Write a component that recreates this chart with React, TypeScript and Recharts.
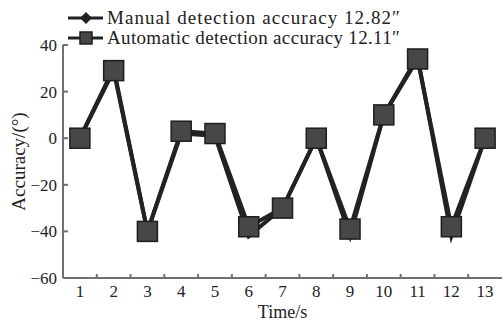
import React from 'react';
import { LineChart, Line, XAxis, YAxis } from 'recharts';

const times = [1, 2, 3, 4, 5, 6, 7, 8, 9, 10, 11, 12, 13];
const manual = [0, 30, -40, 2, 1, -42, -30, 0, -42, 10, 35, -42, 0];
const automatic = [0, 29, -40, 3, 2, -38, -30, 0, -39, 10, 34, -38, 0];
const yTicks = [-60, -40, -20, 0, 20, 40];
const legendLabels = ['Manual detection accuracy 12.82\u2033', 'Automatic detection accuracy 12.11\u2033'];

const data = times.map((t, i) => ({ t, manual: manual[i], automatic: automatic[i] }));

const W = 502;
const H = 322;
const LEFT = 63;
const HALF = (W - LEFT) / times.length / 2;
const FONT = '"Liberation Serif", "Times New Roman", serif';
const INK = '#222';
const AXIS = '#707070';

const XTick = (props: any) => {
  const { x, y, payload } = props;
  return (
    <g>
      <text x={x} y={y + 19} textAnchor="middle" fontSize={17} fill={INK} fontFamily={FONT}>
        {payload.value}
      </text>
      {payload.value < times.length && (
        <line x1={x + HALF} x2={x + HALF} y1={y} y2={y - 4} stroke={AXIS} strokeWidth={2} />
      )}
    </g>
  );
};

const YTick = (props: any) => {
  const { x, y, payload } = props;
  const label = payload.value < 0 ? '\u2212' + Math.abs(payload.value) : String(payload.value);
  return (
    <g>
      <text x={x - 6} y={y + 6} textAnchor="end" fontSize={17} fill={INK} fontFamily={FONT}>
        {label}
      </text>
      <line x1={x} x2={x + 5} y1={y} y2={y} stroke={AXIS} strokeWidth={2} />
    </g>
  );
};

const SquareDot = (props: any) => {
  const { cx, cy, index, size = 20 } = props;
  if (cx == null || cy == null) return null;
  return (
    <rect key={`sq-${index}`} x={cx - size / 2} y={cy - size / 2} width={size} height={size}
      fill="#474747" stroke="#1e1e1e" strokeWidth={1.5} />
  );
};

const DiamondDot = (props: any) => {
  const { cx, cy, index, r = 7 } = props;
  if (cx == null || cy == null) return null;
  return (
    <path key={`dm-${index}`} d={`M${cx},${cy - r}L${cx + r},${cy}L${cx},${cy + r}L${cx - r},${cy}Z`} fill={INK} />
  );
};

const LegendBox = () => (
  <svg width={W} height={50} style={{ position: 'absolute', left: 0, top: 0 }}>
    {legendLabels.map((label, i) => {
      const cy = 18 + i * 20;
      return (
        <g key={label}>
          <line x1={68} x2={103} y1={cy} y2={cy} stroke={INK} strokeWidth={3} />
          {i === 0 ? <DiamondDot cx={86} cy={cy} r={6} /> : <SquareDot cx={86} cy={cy} size={12} />}
          <text x={107} y={cy + 6} fontSize={19} fill={INK} fontFamily={FONT}
            textLength={293} lengthAdjust="spacing">
            {label}
          </text>
        </g>
      );
    })}
  </svg>
);

export default function App() {
  return (
    <div style={{ position: 'absolute', left: 0, top: 0, width: W, height: H, background: '#fff' }}>
      <LineChart width={W} height={H} data={data} margin={{ top: 45, right: 0, bottom: 0, left: 0 }}>
        <XAxis
          dataKey="t"
          type="number"
          domain={[0.5, 13.5]}
          ticks={times}
          interval={0}
          height={44}
          tickSize={0}
          tickMargin={0}
          tickLine={false}
          tick={<XTick />}
          axisLine={{ stroke: AXIS, strokeWidth: 2 }}
          label={{ value: 'Time/s', position: 'insideBottom', offset: 4, fontSize: 18, fill: INK, fontFamily: FONT }}
        />
        <YAxis
          type="number"
          domain={[-60, 40]}
          ticks={yTicks}
          width={LEFT}
          tickSize={0}
          tickMargin={0}
          tickLine={false}
          tick={<YTick />}
          axisLine={{ stroke: AXIS, strokeWidth: 2 }}
          label={{ value: 'Accuracy/(\u00b0)', angle: -90, position: 'insideLeft', offset: 18, fontSize: 19, fill: INK, fontFamily: FONT, style: { textAnchor: 'middle' } }}
        />
        <Line
          dataKey="manual"
          stroke={INK}
          strokeWidth={4}
          dot={<DiamondDot />}
          activeDot={false}
          isAnimationActive={false}
        />
        <Line
          dataKey="automatic"
          stroke={INK}
          strokeWidth={4}
          dot={<SquareDot />}
          activeDot={false}
          isAnimationActive={false}
        />
      </LineChart>
      <LegendBox />
    </div>
  );
}
